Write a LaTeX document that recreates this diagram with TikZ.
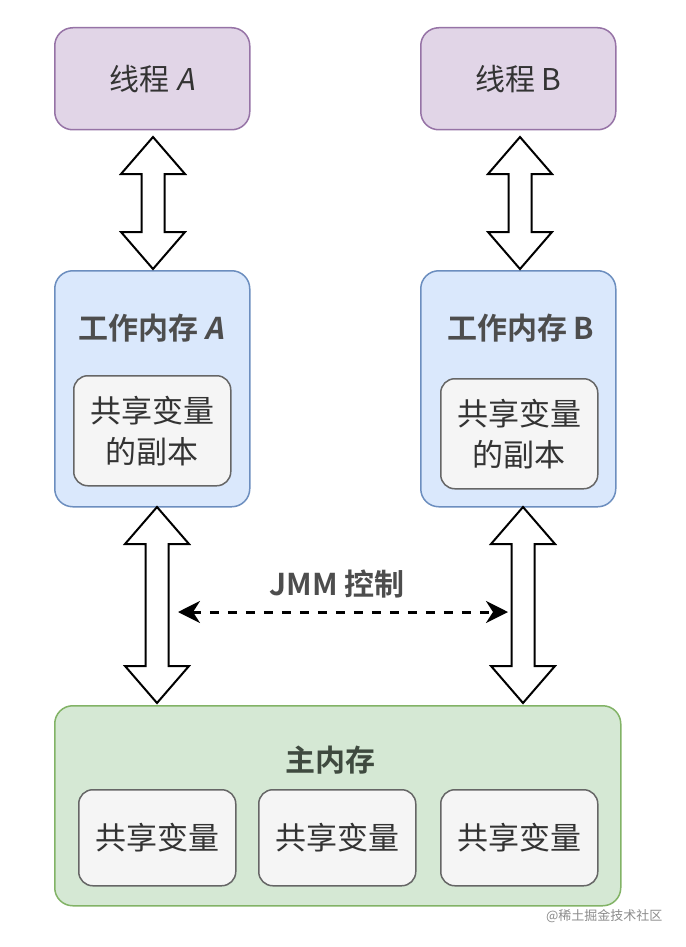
\documentclass[tikz,border=0pt]{standalone}
\usepackage{fontspec}
\setmainfont{Noto Sans CJK SC}[BoldFont={Noto Sans CJK SC Bold}]
\newfontfamily\slantA{Noto Sans CJK SC}[FakeSlant=0.2, BoldFont={Noto Sans CJK SC Bold}, BoldFeatures={FakeSlant=0.2}]
\usetikzlibrary{arrows.meta,calc}
\definecolor{pfill}{HTML}{E1D5E7}\definecolor{pdraw}{HTML}{9673A6}
\definecolor{bfill}{HTML}{DAE8FC}\definecolor{bdraw}{HTML}{6C8EBF}
\definecolor{gfill}{HTML}{D5E8D4}\definecolor{gdraw}{HTML}{82B366}
\definecolor{ifill}{HTML}{F5F5F5}\definecolor{idraw}{HTML}{666666}
\definecolor{txt}{HTML}{333333}\definecolor{ttl}{HTML}{4D4D4D}
\definecolor{gttl}{HTML}{3F4A3F}
\tikzset{
  box/.style={draw, line width=1.5pt, rounded corners=18pt, inner sep=0pt, anchor=north west},
  thread/.style={box, fill=pfill, draw=pdraw, minimum width=195pt, minimum height=102pt, font=\fontsize{30}{36}\selectfont, text=txt},
  work/.style={box, fill=bfill, draw=bdraw, minimum width=195pt, minimum height=236pt},
  mainbox/.style={box, fill=gfill, draw=gdraw, minimum width=566pt, minimum height=200pt},
  inner/.style={box, fill=ifill, draw=idraw, rounded corners=14pt, minimum width=157pt, font=\fontsize{31}{41}\selectfont, text=txt, align=center},
  title/.style={font=\bfseries\fontsize{30}{36}\selectfont, text=ttl},
  fat/.style={draw=black, line width=2pt, fill=white, line join=miter}
}
\newcommand{\dblarrow}[3]{% x, ytop, ybot
  \draw[fat] (#1,#2) -- ++(32,37) -- ++(-20.5,0) -- (#1+11.5,#3-37) -- ++(20.5,0) -- (#1,#3) -- ++(-32,-37) -- ++(20.5,0) -- (#1-11.5,#2+37) -- ++(-20.5,0) -- cycle;}
\begin{document}
\begin{tikzpicture}[x=1pt,y=-1pt]
\useasboundingbox (0,0) rectangle (685,947);
\fill[white] (0,0) rectangle (685,947);
% threads
\node[thread] (tA) at (54,27) {线程 {\slantA A}};
\node[thread] (tB) at (420,27) {线程 B};
% working memories
\node[work] (wA) at (54,270) {};
\node[work] (wB) at (420,270) {};
\node[title] (wAt) at (151,328) {工作内存\hspace{6pt}{\slantA\bfseries A}};
\node[title] (wBt) at (521,328) {工作内存\hspace{6pt}B};
\node[inner, minimum height=110pt] (cA) at (73,375) {共享变量\\的副本};
\node[inner, minimum height=110pt] (cB) at (440,378) {共享变量\\的副本};
% main memory
\node[mainbox] (mm) at (54,705) {};
\node[title, text=gttl] (mmt) at (330,760) {主内存};
\node[inner, minimum height=96pt] (s1) at (78,789) {共享变量};
\node[inner, minimum height=96pt] (s2) at (258,789) {共享变量};
\node[inner, minimum height=96pt] (s3) at (440,789) {共享变量};
% fat double arrows
\dblarrow{153}{137}{269}
\dblarrow{520}{137}{269}
\dblarrow{157}{507}{703}
\dblarrow{523}{507}{703}
% JMM control
\coordinate (jL) at (178,612);
\coordinate (jR) at (508,612);
\draw[line width=3pt, dash pattern=on 9pt off 9pt, {Stealth[length=22pt,width=22pt,inset=7pt]}-{Stealth[length=22pt,width=22pt,inset=7pt]}] (jL) -- (jR);
\node[title] (jmm) at (337,584) {JMM\hspace{6pt}控制};
% watermark
\node[text=black!45, font=\fontsize{13}{15}\selectfont, anchor=east] (wm) at (666,916) {@稀土掘金技术社区};
\end{tikzpicture}
\end{document}
